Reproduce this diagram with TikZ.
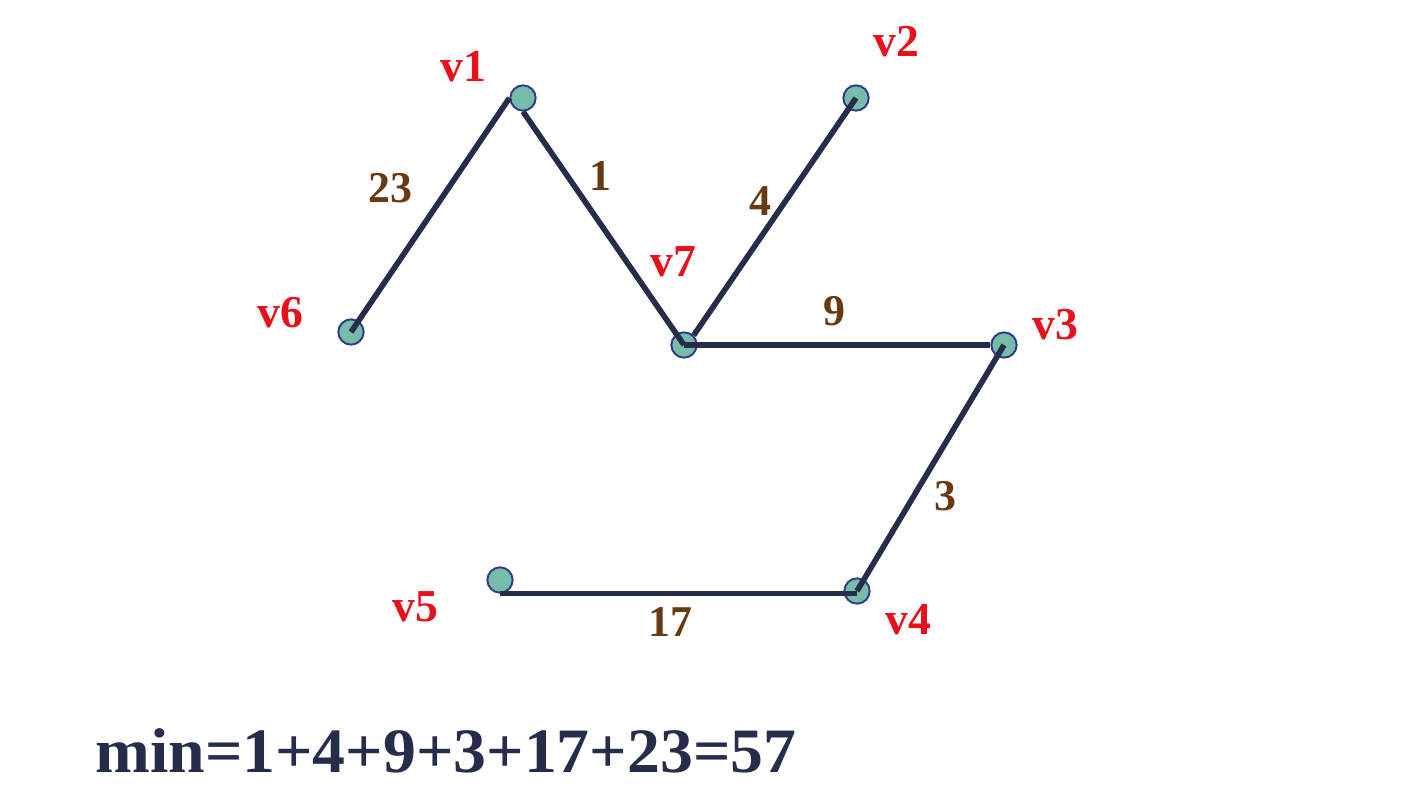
\documentclass[tikz,border=0pt]{standalone}
\usepackage{fontspec}
\setmainfont{Liberation Serif}
\definecolor{edgecol}{HTML}{262D4A}
\definecolor{vred}{HTML}{E8101A}
\definecolor{wbrown}{HTML}{683A12}
\definecolor{vfill}{HTML}{76BCA8}
\definecolor{vline}{HTML}{2B3A8C}
\tikzset{
  vert/.style={circle,draw=vline,fill=vfill,line width=1.1pt,minimum size=14.4pt,inner sep=0pt},
  edge/.style={draw=edgecol,line width=3.2pt},
  vlab/.style={text=vred,font=\fontsize{26}{26}\selectfont\bfseries,inner sep=0pt},
  wlab/.style={text=wbrown,font=\fontsize{25}{25}\selectfont\bfseries,inner sep=0pt},
}
\begin{document}
\begin{tikzpicture}[x=0.02cm,y=-0.02cm]
\useasboundingbox[fill=white] (0,0) rectangle (1408,800);
\node[vert] (v1) at (523,98) {};
\node[vert] (v2) at (856,98) {};
\node[vert] (v6) at (351,332) {};
\node[vert] (v7) at (684,345) {};
\node[vert] (v3) at (1004,345) {};
\node[vert] (v4) at (857,591) {};
\node[vert] (v5) at (500,580) {};
\draw[edge] (v1.west) -- (v6.center);
\draw[edge] (v1.south) -- (v7.center);
\draw[edge] (v7.north east) -- (v2.center);
\draw[edge] (v7.center) -- (v3.west);
\draw[edge] (v3.center) -- (v4.center);
\draw[edge] (v5.south) -- (v4.center |- v5.south);
\node[vlab] (l1) at (463,67) {v1};
\node[vlab] (l2) at (896,42) {v2};
\node[vlab] (l6) at (280,313) {v6};
\node[vlab] (l7) at (673,262) {v7};
\node[vlab] (l3) at (1055,325) {v3};
\node[vlab] (l4) at (908,620) {v4};
\node[vlab] (l5) at (415,607) {v5};
\node[wlab] (w23) at (390,188) {23};
\node[wlab] (w1) at (600,176) {1};
\node[wlab] (w4) at (760,201) {4};
\node[wlab] (w9) at (834,311) {9};
\node[wlab] (w3) at (945,496) {3};
\node[wlab] (w17) at (670,622) {17};
\node[anchor=base west,inner sep=0pt,xscale=1.04,text=edgecol,font=\fontsize{36}{36}\selectfont\bfseries] (sum) at (95,772) {min=1+4+9+3+17+23=57};
\end{tikzpicture}
\end{document}
